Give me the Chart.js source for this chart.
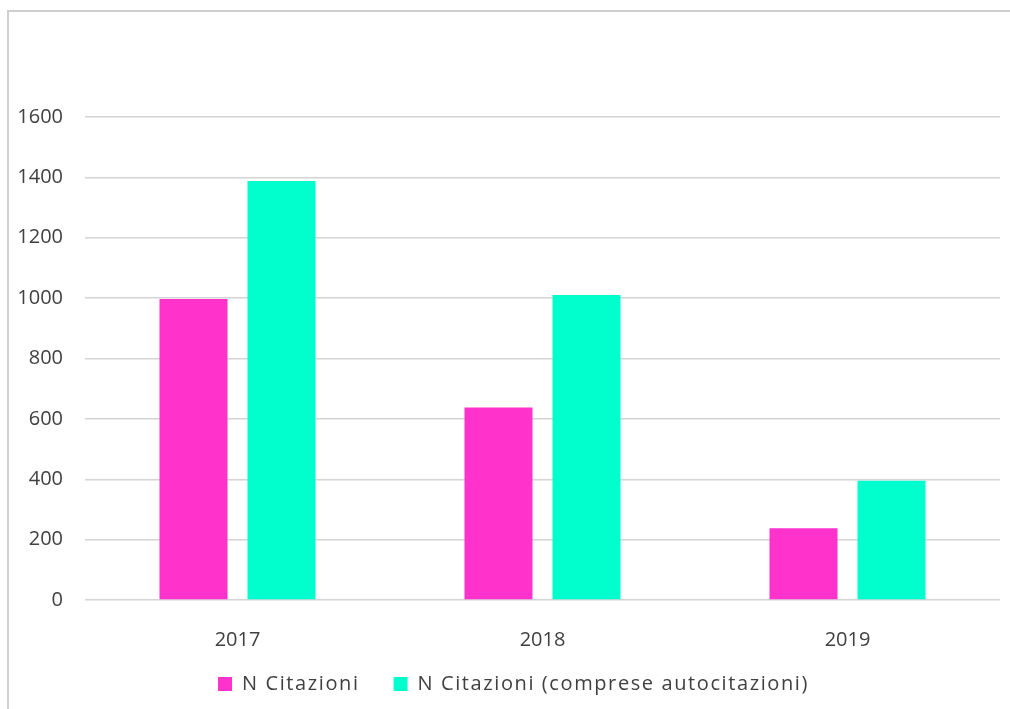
<!DOCTYPE html>
<html>
<head>
<meta charset="utf-8">
<script src="https://cdn.jsdelivr.net/npm/chart.js@4.4.1/dist/chart.umd.min.js"></script>
<style>
  html, body { margin: 0; padding: 0; background: #fff; overflow: hidden; }
  #wrap { position: relative; width: 1010px; height: 709px; }
  #frame { position: absolute; left: 7px; top: 10px; width: 1100px; height: 800px;
           border-left: 2px solid #cfcfcf; border-top: 2px solid #cfcfcf; }
  canvas { position: absolute; left: 0; top: 0; }
</style>
</head>
<body>
<div id="wrap">
  <div id="frame"></div>
  <canvas id="chart" width="1010" height="709"></canvas>
</div>
<script>
// Data
const years = ['2017', '2018', '2019'];
const citazioni = [997, 638, 238];
const citazioniAuto = [1388, 1010, 395];
const yTicks = [0, 200, 400, 600, 800, 1000, 1200, 1400, 1600];

const textColor = '#404040';
const fontFamily = '"Open Sans", "Noto Sans", sans-serif';

// legend tweaks: wider letter spacing, compact box, nudged up
const legendSpacing = '1.6px';
const legendBoxHeight = 27;
const legendShift = -32;
const legendShiftX = 5;

const legendTweak = {
  id: 'legendTweak',
  afterInit(chart) {
    const lg = chart.legend;
    const c = chart.ctx;
    const fit = lg.fit;
    const draw = lg.draw;
    lg.fit = function() {
      c.save();
      c.letterSpacing = legendSpacing;
      fit.apply(this, arguments);
      c.restore();
      this.height = legendBoxHeight;
    };
    lg.draw = function() {
      c.save();
      c.letterSpacing = legendSpacing;
      this.top += legendShift;
      this.bottom += legendShift + 60;
      this.left += legendShiftX;
      this.right += legendShiftX;
      draw.apply(this, arguments);
      this.top -= legendShift;
      this.bottom -= legendShift + 60;
      this.left -= legendShiftX;
      this.right -= legendShiftX;
      c.restore();
    };
  }
};

const ctx = document.getElementById('chart');

new Chart(ctx, {
  type: 'bar',
  data: {
    labels: years,
    datasets: [
      {
        label: 'N Citazioni',
        data: citazioni,
        backgroundColor: '#ff33cc',
        categoryPercentage: 0.577,
        barPercentage: 0.773
      },
      {
        label: 'N Citazioni (comprese autocitazioni)',
        data: citazioniAuto,
        backgroundColor: '#00ffcc',
        categoryPercentage: 0.577,
        barPercentage: 0.773
      }
    ]
  },
  options: {
    responsive: false,
    animation: false,
    layout: {
      padding: { top: 117, left: 17, right: 10, bottom: 10 }
    },
    scales: {
      x: {
        grid: { display: false },
        border: { display: false },
        ticks: { color: textColor, font: { family: fontFamily, size: 20 }, padding: 20 }
      },
      y: {
        min: 0,
        max: 1600,
        afterBuildTicks: axis => { axis.ticks = yTicks.map(v => ({ value: v })); },
        afterFit: axis => { axis.width = 68; },
        grid: { color: '#d4d4d4', lineWidth: 1.5, drawTicks: false },
        border: { display: false },
        ticks: {
          color: textColor,
          font: { family: fontFamily, size: 20 },
          padding: 22,
          callback: v => String(v)
        }
      }
    },
    plugins: {
      legend: {
        position: 'bottom',
        labels: {
          color: textColor,
          font: { family: fontFamily, size: 20 },
          boxWidth: 14,
          boxHeight: 14,
          padding: 34
        }
      },
      tooltip: { enabled: false }
    }
  },
  plugins: [legendTweak]
});
</script>
</body>
</html>
